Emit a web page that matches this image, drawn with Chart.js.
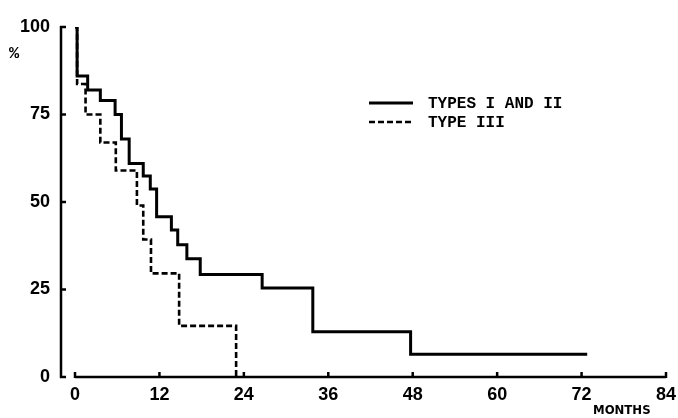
<!DOCTYPE html>
<html>
<head>
<meta charset="utf-8">
<script src="https://cdn.jsdelivr.net/npm/chart.js@4"></script>
<style>
html,body{margin:0;padding:0;background:#fff;}
#wrap{width:678px;height:418px;}
</style>
</head>
<body>
<div id="wrap"><canvas id="c" width="678" height="418"></canvas></div>
<script>
// Months at which each curve changes, and the % surviving after the change
const typesIandII_months = [0, 0.3, 1.8, 3.6, 5.7, 6.6, 7.7, 9.7, 10.7, 11.6, 13.7, 14.6, 15.9, 17.8, 26.6, 33.8, 47.7, 72.8];
const typesIandII_pct    = [100, 86, 82, 79, 75, 68, 61, 57.4, 53.7, 45.8, 42, 37.8, 33.8, 29.3, 25.4, 12.9, 6.5, 6.5];
const typeIII_months = [0, 0.3, 1.5, 3.6, 5.8, 8.8, 9.7, 10.8, 14.8, 22.9];
const typeIII_pct    = [100, 83.7, 75, 67, 59, 49, 39.3, 29.6, 14.6, 0];
const seriesLabels = ["TYPES I AND II", "TYPE III"];
const xTicks = [0, 12, 24, 36, 48, 60, 72, 84];
const yTicks = [0, 25, 50, 75, 100];
const xTitle = "MONTHS";
const yTitle = "%";

function pts(xs, ys){ return xs.map((x,i)=>({x:x, y:ys[i]})); }

const axisPlugin = {
  id: 'axisPlugin',
  afterDraw(chart){
    const ctx = chart.ctx;
    const xs = chart.scales.x, ys = chart.scales.y;
    const ca = chart.chartArea;
    ctx.save();
    ctx.strokeStyle = '#000';
    ctx.lineWidth = 2.5;
    ctx.lineCap = 'butt';
    // y axis (offset to the left of the plot)
    const yx = ca.left - 14;
    ctx.beginPath();
    ctx.moveTo(yx, ys.getPixelForValue(100) - 1);
    ctx.lineTo(yx, ys.getPixelForValue(0) + 1);
    ctx.stroke();
    yTicks.forEach(v=>{
      const py = ys.getPixelForValue(v);
      ctx.beginPath(); ctx.moveTo(yx - 1, py); ctx.lineTo(yx + 5, py); ctx.stroke();
    });
    // x axis
    const by = ys.getPixelForValue(0);
    ctx.beginPath();
    ctx.moveTo(xs.getPixelForValue(0), by);
    ctx.lineTo(xs.getPixelForValue(84), by);
    ctx.stroke();
    xTicks.forEach(v=>{
      const px = xs.getPixelForValue(v);
      ctx.beginPath(); ctx.moveTo(px, by + 1); ctx.lineTo(px, by - 5); ctx.stroke();
    });
    // titles
    ctx.fillStyle = '#000';
    ctx.font = 'bold 17px "Liberation Mono", "DejaVu Sans Mono", monospace';
    ctx.textAlign = 'center'; ctx.textBaseline = 'middle';
    ctx.fillText(yTitle, 14, 54);
    ctx.font = 'bold 13px "DejaVu Sans Condensed", "DejaVu Sans", sans-serif';
    ctx.textAlign = 'left';
    ctx.fillText(xTitle, 593, 411);
    // legend
    const lx0 = 369, lx1 = 413, tx = 428;
    const rows = [103, 122];
    chart.data.datasets.forEach((ds, i)=>{
      const y = rows[i];
      ctx.lineWidth = ds.borderWidth;
      ctx.setLineDash(ds.borderDash || []);
      ctx.beginPath(); ctx.moveTo(lx0, y); ctx.lineTo(lx1, y); ctx.stroke();
      ctx.setLineDash([]);
      ctx.font = 'bold 16px "Liberation Mono", "DejaVu Sans Mono", monospace';
      ctx.textAlign = 'left'; ctx.textBaseline = 'middle';
      ctx.fillText(ds.label, tx, y + 1);
    });
    ctx.restore();
  }
};

const tickFont = { family: '"Liberation Sans", Arial, sans-serif', size: 18, weight: 'bold' };

new Chart(document.getElementById('c'), {
  type: 'line',
  data: {
    datasets: [
      { label: seriesLabels[0], data: pts(typesIandII_months, typesIandII_pct),
        borderColor: '#000', borderWidth: 3, stepped: 'before', pointRadius: 0, fill: false },
      { label: seriesLabels[1], data: pts(typeIII_months, typeIII_pct),
        borderColor: '#000', borderWidth: 2.6, borderDash: [6, 3], stepped: 'before', pointRadius: 0, fill: false }
    ]
  },
  options: {
    responsive: false,
    animation: false,
    layout: { padding: { top: 27, right: 12, left: 0, bottom: 0 } },
    plugins: { legend: { display: false }, tooltip: { enabled: false } },
    scales: {
      x: {
        type: 'linear', min: 0, max: 84,
        afterBuildTicks(s){ s.ticks = xTicks.map(v=>({value:v})); },
        afterFit(s){ s.height = 41; s.paddingLeft = 0; s.paddingRight = 0; s.paddingTop = 0; s.paddingBottom = 0; },
        grid: { display: false, drawTicks: false },
        border: { display: false },
        ticks: { padding: 7, color: '#000', maxRotation: 0, font: tickFont }
      },
      y: {
        type: 'linear', min: 0, max: 100,
        afterBuildTicks(s){ s.ticks = yTicks.map(v=>({value:v})); },
        afterFit(s){ s.width = 75; s.paddingLeft = 0; s.paddingRight = 0; s.paddingTop = 0; s.paddingBottom = 0; },
        grid: { display: false, drawTicks: false },
        border: { display: false },
        ticks: { padding: 25, color: '#000', font: tickFont }
      }
    }
  },
  plugins: [axisPlugin]
});
</script>
</body>
</html>
